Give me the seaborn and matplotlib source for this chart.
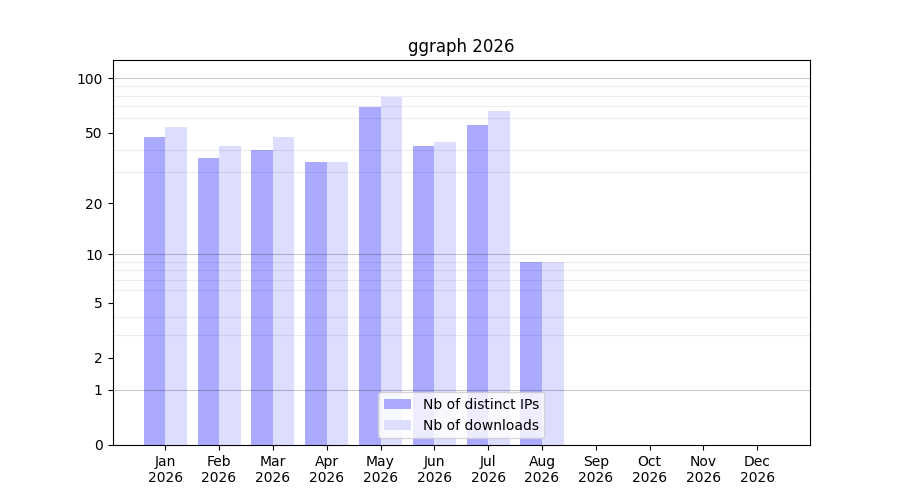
import numpy as np
import pandas as pd
import seaborn as sns
import matplotlib.pyplot as plt

months = ['Jan', 'Feb', 'Mar', 'Apr', 'May', 'Jun', 'Jul', 'Aug',
          'Sep', 'Oct', 'Nov', 'Dec']
year = '2026'
distinct_ips = [47, 36, 40, 34, 69, 42, 55, 9]
downloads = [54, 42, 47, 34, 79, 44, 66, 9]
series = ['Nb of distinct IPs', 'Nb of downloads']
yticks = [0, 1, 2, 5, 10, 20, 50, 100]

n = len(distinct_ips)
df = pd.DataFrame({
    'month': months[:n] * 2,
    'value': distinct_ips + downloads,
    'serie': [series[0]] * n + [series[1]] * n,
})

fig, ax = plt.subplots(figsize=(9, 5), dpi=100)
sns.barplot(data=df, x='month', y='value', hue='serie', order=months,
            hue_order=series, palette=['#aaaaff', '#ddddff'], saturation=1,
            linewidth=0, ax=ax, zorder=1)

# log(1+x) scale so that 0 fits
ax.set_yscale('function', functions=(lambda v: np.log10(1 + np.clip(v, 0, None)),
                                     lambda v: 10 ** v - 1))
ax.set_ylim(0, 126)
ax.set_xlim(-0.98, 11.98)
ax.set_yticks(yticks)
ax.set_yticklabels([str(t) for t in yticks])
minor = [m * d for d in (1, 10) for m in range(2, 10)]
ax.set_yticks(minor, minor=True)
ax.tick_params(axis='y', which='minor', length=0)
ax.grid(axis='y', which='minor', color='black', alpha=0.07, linewidth=0.8, zorder=2)
for v in (1, 10, 100):
    ax.axhline(v, color='black', alpha=0.22, linewidth=0.8, zorder=2)

ax.set_xticks(range(len(months)))
ax.set_xticklabels([f'{m}\n{year}' for m in months])
ax.set_xlabel('')
ax.set_ylabel('')
ax.set_title('ggraph ' + year)
ax.legend(loc='lower center', title=None)

plt.savefig('out.png')
